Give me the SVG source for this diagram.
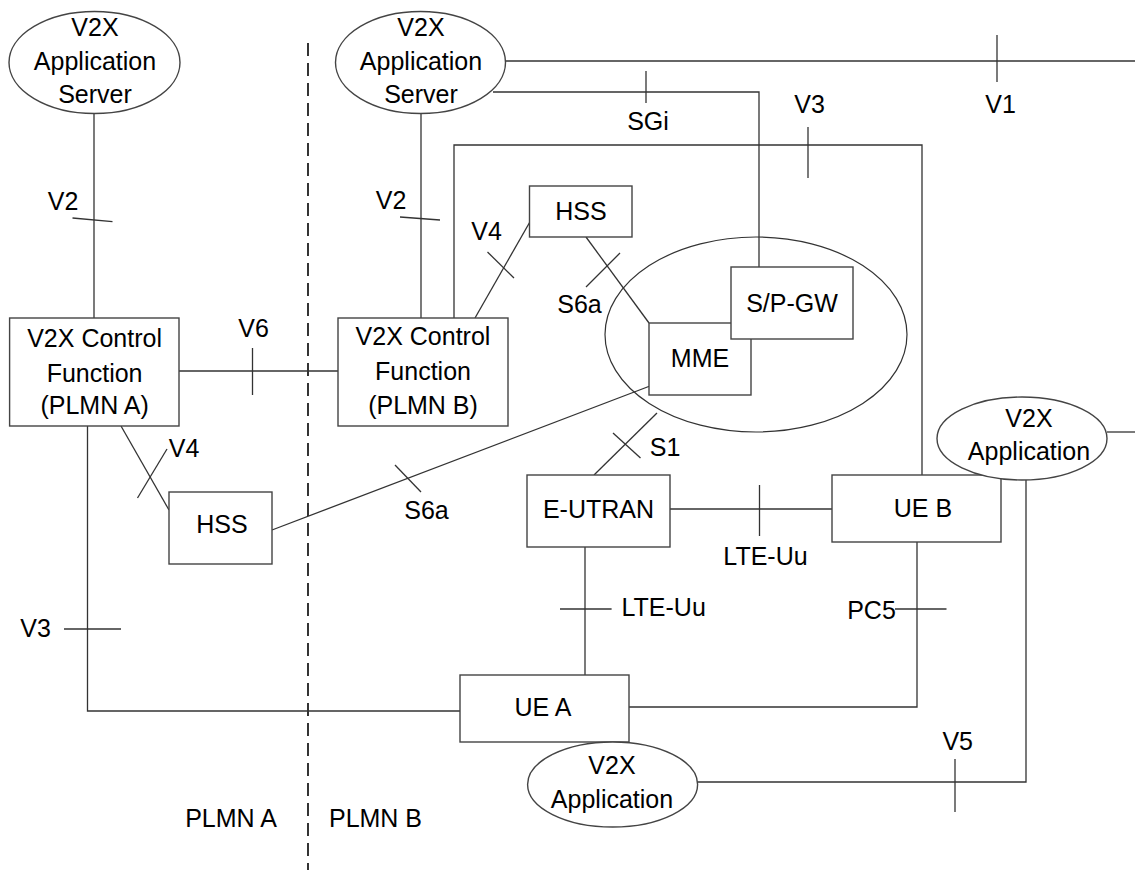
<svg xmlns="http://www.w3.org/2000/svg" width="1135" height="877" viewBox="0 0 1135 877">
<style>
.n{fill:#fff;stroke:#444;stroke-width:1.4}
.o{fill:none;stroke:#333;stroke-width:1.2}
.c{fill:none;stroke:#333;stroke-width:1.3}
.d{stroke:#111;stroke-width:1.7;stroke-dasharray:13 7}
.t{font-family:"Liberation Sans",Arial,sans-serif;font-size:25px;fill:#000;text-anchor:middle}
</style>
<rect width="1135" height="877" fill="#fff"/>
<g id="connectors" class="c">
<line class="d" x1="308" y1="43" x2="308" y2="870"/>
<line x1="94" y1="113" x2="94" y2="318"/><line x1="72.5" y1="218" x2="112.5" y2="221.7"/>
<line x1="421" y1="113" x2="421" y2="318"/><line x1="400" y1="217" x2="440" y2="220"/>
<line x1="505" y1="61" x2="1135" y2="61"/><line x1="997" y1="35" x2="997" y2="82"/>
<polyline points="493,92 759,92 759,267"/><line x1="646" y1="71" x2="646" y2="103"/>
<polyline points="454,318 454,145 922,145 922,475"/><line x1="808" y1="127" x2="808" y2="178"/>
<line x1="475" y1="318" x2="531" y2="220"/><line x1="487.5" y1="252" x2="514" y2="278"/>
<line x1="586" y1="237" x2="649" y2="323"/><line x1="620" y1="253" x2="586" y2="287"/>
<line x1="179" y1="371" x2="338" y2="371"/><line x1="252.5" y1="348" x2="252.5" y2="395"/>
<line x1="121" y1="426" x2="169" y2="510"/><line x1="167" y1="449" x2="137.5" y2="498"/>
<line x1="272" y1="530" x2="650" y2="386"/><line x1="395" y1="465" x2="421" y2="492"/>
<line x1="657" y1="413" x2="594" y2="475"/><line x1="613" y1="433" x2="640.5" y2="458"/>
<line x1="670" y1="509" x2="832" y2="509"/><line x1="759.5" y1="485" x2="759.5" y2="536"/>
<line x1="585" y1="547" x2="585" y2="675"/><line x1="560" y1="609" x2="611.6" y2="609"/>
<polyline points="629,707 917,707 917,542"/><line x1="895" y1="609" x2="946.5" y2="609"/>
<polyline points="87.5,426 87.5,711 460,711"/><line x1="64" y1="629" x2="121" y2="629"/>
<polyline points="697,782 1026,782 1026,480"/><line x1="955" y1="759" x2="955" y2="812"/>
<line x1="1107" y1="432" x2="1135" y2="432"/>
</g>
<g id="core-ellipse"><ellipse class="o" cx="756" cy="334.5" rx="151" ry="97.5"/></g>
<g id="as-a"><ellipse class="n" cx="94.5" cy="62.5" rx="85.5" ry="51"/>
<text class="t" x="95" y="36">V2X</text><text class="t" x="95" y="70">Application</text><text class="t" x="95" y="103">Server</text></g>
<g id="as-b"><ellipse class="n" cx="420.5" cy="62.5" rx="85" ry="51"/>
<text class="t" x="421" y="36">V2X</text><text class="t" x="421" y="70">Application</text><text class="t" x="421" y="103">Server</text></g>
<g id="cf-a"><rect class="n" x="9.6" y="318" width="169.4" height="108"/>
<text class="t" x="94.6" y="347">V2X Control</text><text class="t" x="94.6" y="382">Function</text><text class="t" x="94.6" y="414">(PLMN A)</text></g>
<g id="cf-b"><rect class="n" x="338" y="318" width="170" height="108"/>
<text class="t" x="423" y="345">V2X Control</text><text class="t" x="423" y="380">Function</text><text class="t" x="423" y="414">(PLMN B)</text></g>
<g id="hss-b"><rect class="n" x="529.5" y="186" width="102.5" height="51"/><text class="t" x="581" y="220">HSS</text></g>
<g id="hss-a"><rect class="n" x="169" y="492" width="103" height="72"/><text class="t" x="222" y="533">HSS</text></g>
<g id="mme"><rect class="n" x="649" y="323" width="102" height="72"/><text class="t" x="700" y="367">MME</text></g>
<g id="spgw"><rect class="n" x="731" y="267" width="122" height="72"/><text class="t" x="792" y="312">S/P-GW</text></g>
<g id="eutran"><rect class="n" x="527" y="475" width="143" height="72"/><text class="t" x="598.5" y="518">E-UTRAN</text></g>
<g id="ue-b"><rect class="n" x="832" y="475" width="169" height="67"/><text class="t" x="923" y="517">UE B</text></g>
<g id="app-b"><ellipse class="n" cx="1022" cy="438.5" rx="85" ry="41.5"/>
<text class="t" x="1029" y="427">V2X</text><text class="t" x="1029" y="460">Application</text></g>
<g id="ue-a"><rect class="n" x="460" y="675" width="169" height="67"/><text class="t" x="543" y="716">UE A</text></g>
<g id="app-a"><ellipse class="n" cx="612.6" cy="784.5" rx="85" ry="42.5"/>
<text class="t" x="612" y="774">V2X</text><text class="t" x="612" y="808">Application</text></g>
<g id="labels">
<text class="t" x="63" y="210">V2</text>
<text class="t" x="391" y="209">V2</text>
<text class="t" x="486.5" y="240">V4</text>
<text class="t" x="648" y="130">SGi</text>
<text class="t" x="809.5" y="113">V3</text>
<text class="t" x="1000.5" y="113">V1</text>
<text class="t" x="579.5" y="313">S6a</text>
<text class="t" x="253.6" y="337">V6</text>
<text class="t" x="184" y="457">V4</text>
<text class="t" x="426.5" y="519">S6a</text>
<text class="t" x="665" y="456">S1</text>
<text class="t" x="765.5" y="565">LTE-Uu</text>
<text class="t" x="663.7" y="616">LTE-Uu</text>
<text class="t" x="871.5" y="619">PC5</text>
<text class="t" x="35.5" y="637">V3</text>
<text class="t" x="957.7" y="750">V5</text>
<text class="t" x="231" y="827">PLMN A</text>
<text class="t" x="375.5" y="827">PLMN B</text>
</g>
</svg>
